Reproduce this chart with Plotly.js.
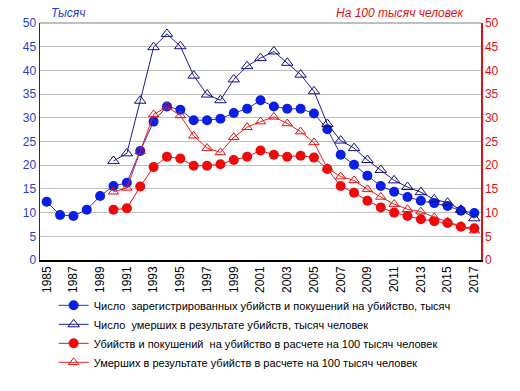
<!DOCTYPE html>
<html><head><meta charset="utf-8">
<script src="https://cdn.plot.ly/plotly-3.0.1.min.js"></script>
<style>body{margin:0;background:#fff}#c{width:520px;height:391px}</style>
</head><body><div id="c"></div>
<script>
const years = [];
for (let y = 1985; y <= 2017; y++) years.push(y);
const years90 = years.filter(y => y >= 1990);

const registered = [12.3,9.5,9.3,10.6,13.5,15.6,16.3,23.0,29.2,32.4,31.7,29.5,29.5,29.8,31.0,31.9,33.7,32.4,31.9,31.9,30.9,27.6,22.2,20.1,17.8,15.6,14.4,13.3,12.5,12.0,11.4,10.4,9.9];
const died = [20.9,22.5,33.6,44.9,47.7,45.1,38.9,34.9,33.7,38.1,40.9,42.6,44.0,41.6,39.1,35.6,28.7,25.2,23.6,21.1,19.0,16.8,15.4,14.3,12.8,12.1,10.6,8.8];
const regPer100k = [10.6,10.9,15.5,19.6,21.8,21.4,19.9,19.9,20.2,21.1,21.8,23.1,22.2,21.8,22.0,21.6,19.2,15.6,14.2,12.5,11.1,10.0,9.3,8.6,8.2,7.8,7.0,6.7];
const diedPer100k = [14.4,15.2,22.9,30.7,32.3,30.5,26.2,23.6,22.7,25.9,28.0,29.2,30.2,28.8,27.1,24.8,19.4,17.6,16.8,14.9,13.3,11.8,10.7,10.2,9.0,8.1,7.2,6.2];

const names = [
  'Число  зарегистрированных убийств и покушений на убийство, тысяч',
  'Число  умерших в результате убийств, тысяч человек',
  'Убийств и покушений  на убийство в расчете на 100 тысяч человек',
  'Умерших в результате убийств в расчете на 100 тысяч человек'
];

const traces = [
  {x: years, y: registered, name: names[0], type:'scatter', mode:'lines+markers',
   line:{color:'#2B2BD6', width:1}, marker:{symbol:'circle', size:10, color:'#0A1EE6'}},
  {x: years90, y: died, name: names[1], type:'scatter', mode:'lines+markers',
   line:{color:'#1C1CA8', width:1}, marker:{symbol:'triangle-up-open', size:10, color:'#101080', line:{width:1}}},
  {x: years90, y: regPer100k, name: names[2], type:'scatter', mode:'lines+markers', yaxis:'y2',
   line:{color:'#F01010', width:1}, marker:{symbol:'circle', size:10, color:'#EE0A0A'}},
  {x: years90, y: diedPer100k, name: names[3], type:'scatter', mode:'lines+markers', yaxis:'y2',
   line:{color:'#F02020', width:1}, marker:{symbol:'triangle-up-open', size:9, color:'#E81010', line:{width:1}}}
];

const layout = {
  width:520, height:391,
  margin:{l:40, r:39, t:23, b:131},
  paper_bgcolor:'#fff', plot_bgcolor:'#fff',
  font:{family:'Liberation Sans, Arial, sans-serif', size:11, color:'#000'},
  showlegend:true,
  legend:{x:0.031, y:-0.13, xanchor:'left', yanchor:'top', orientation:'v',
    font:{size:11, color:'#000'}, tracegroupgap:0, itemwidth:30, bgcolor:'rgba(0,0,0,0)'},
  xaxis:{range:[1984.5,2017.5], tickmode:'linear', tick0:1985, dtick:2, tickangle:-90,
    showgrid:false, zeroline:false, showline:true, linecolor:'#000', linewidth:1.5,
    ticks:'', tickfont:{size:12, color:'#000'}, mirror:false},
  yaxis:{range:[0,50], dtick:5, showgrid:true, gridcolor:'#C0C0C0', gridwidth:1,
    zeroline:false, showline:true, linecolor:'#1020B0', linewidth:1.5, ticks:'',
    tickfont:{size:12, color:'#1F3FCF'}},
  yaxis2:{range:[0,50], dtick:5, overlaying:'y', side:'right', showgrid:false,
    zeroline:false, showline:true, linecolor:'#E01010', linewidth:1.5, ticks:'outside', ticklen:0,
    tickfont:{size:12, color:'#E01010'}},
  shapes:[{type:'line', xref:'paper', yref:'paper', x0:0, x1:1, y0:1, y1:1, line:{color:'#808080', width:1}}],
  annotations:[
    {text:'<i>Тысяч</i>', xref:'paper', yref:'paper', x:0.02, y:1.0, xanchor:'left', yanchor:'bottom',
     showarrow:false, font:{size:12, color:'#1F3FCF'}, yshift:1},
    {text:'<i>На 100 тысяч человек</i>', xref:'paper', yref:'paper', x:0.965, y:1.0, xanchor:'right', yanchor:'bottom',
     showarrow:false, font:{size:12, color:'#E01010'}, yshift:1}
  ]
};

Plotly.newPlot('c', traces, layout, {displayModeBar:false, staticPlot:true});
</script>
</body></html>
